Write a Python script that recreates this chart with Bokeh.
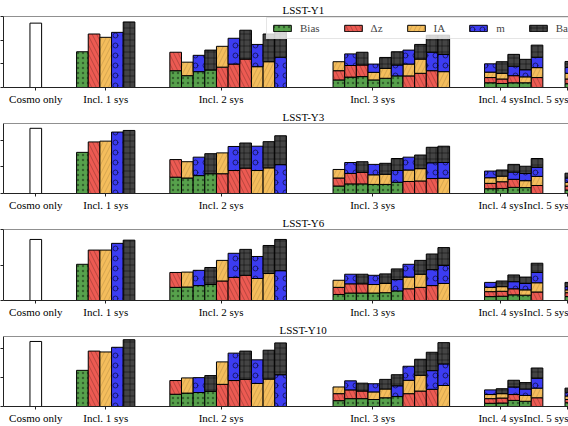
import itertools
from bokeh.plotting import figure
from bokeh.layouts import column
from bokeh.models import Span, FixedTicker, Legend, LegendItem, Range1d, CustomJSTickFormatter
from bokeh.embed import file_html
from bokeh.resources import INLINE

SYS = ["Bias", "Δz", "IA", "m", "Baryons"]
COLORS = ["#57a14c", "#ec5a52", "#f4bd5c", "#3c3cf2", "#444444"]
HATCH = [".", "\\", "/", "o", "+"]
HATCH_SCALE = [5, 9, 9, 10, 6]
HATCH_ALPHA = [0.4, 0.22, 0.12, 0.55, 0.45]

GROUP_STARTS = [4, 12, 26, 39, 45.9]
TICK_POS = [0, 6, 15.9, 28.9, 39.9, 45.6]
TICK_LABELS = ["Cosmo only", "Incl. 1 sys", "Incl. 2 sys", "Incl. 3 sys", "Incl. 4 sys", "Incl. 5 sys"]
TITLES = ["LSST-Y1", "LSST-Y3", "LSST-Y6", "LSST-Y10"]
Y_MAX = [3.0, 2.62, 2.0, 2.4]
Y_TICKS = [[0, 1, 2, 3], [0, 1, 2], [0, 1, 2], [0, 1, 2]]

# ---- LSST-Y1 (cumulative tops of each stacked segment, in combination order)
y1_cosmo = 2.72
y1_sys1 = [1.51, 2.26, 2.12, 2.33, 2.77]
y1_sys2 = [[0.71, 1.49], [0.50, 1.07], [0.67, 1.36], [0.74, 1.58], [0.86, 1.74],
           [0.99, 2.08], [1.20, 2.42], [0.88, 1.82], [1.09, 2.26], [1.28, 2.50]]
y1_sys3 = [[0.32, 0.71, 1.09], [0.44, 0.93, 1.42], [0.46, 0.95, 1.49], [0.32, 0.64, 0.99],
           [0.39, 0.81, 1.27], [0.49, 0.95, 1.51], [0.49, 0.99, 1.58], [0.60, 1.20, 1.82],
           [0.71, 1.49, 2.21], [0.67, 1.40, 2.21]]
y1_sys4 = [[0.20, 0.42, 0.65, 1.00], [0.17, 0.36, 0.60, 1.09], [0.20, 0.50, 0.90, 1.40],
           [0.20, 0.45, 0.75, 1.19], [0.42, 0.84, 1.28, 1.79]]
y1_sys5 = [[0.16, 0.36, 0.60, 0.85, 1.10]]

# ---- LSST-Y3
y3_cosmo = 2.44
y3_sys1 = [1.54, 1.93, 1.96, 2.30, 2.36]
y3_sys2 = [[0.61, 1.27], [0.58, 1.19], [0.67, 1.36], [0.74, 1.49], [0.74, 1.52],
           [0.86, 1.76], [0.95, 1.89], [0.86, 1.77], [0.96, 1.94], [1.08, 2.16]]
y3_sys3 = [[0.28, 0.58, 0.90], [0.36, 0.75, 1.16], [0.36, 0.79, 1.19], [0.34, 0.70, 1.09],
           [0.34, 0.72, 1.13], [0.42, 0.86, 1.31], [0.45, 0.88, 1.36], [0.47, 0.93, 1.44],
           [0.56, 1.15, 1.73], [0.57, 1.16, 1.77]]
y3_sys4 = [[0.18, 0.38, 0.59, 0.84], [0.19, 0.44, 0.65, 0.88], [0.23, 0.53, 0.80, 1.09],
           [0.22, 0.48, 0.75, 1.02], [0.30, 0.64, 0.98, 1.31]]
y3_sys5 = [[0.13, 0.28, 0.42, 0.58, 0.76]]

# ---- LSST-Y6
y6_cosmo = 1.72
y6_sys1 = [1.02, 1.42, 1.42, 1.61, 1.70]
y6_sys2 = [[0.37, 0.79], [0.38, 0.80], [0.42, 0.85], [0.45, 0.93], [0.55, 1.13],
           [0.65, 1.33], [0.71, 1.44], [0.62, 1.24], [0.76, 1.55], [0.84, 1.72]]
y6_sys3 = [[0.17, 0.37, 0.57], [0.21, 0.47, 0.74], [0.21, 0.47, 0.74], [0.21, 0.45, 0.71],
           [0.22, 0.48, 0.75], [0.27, 0.59, 0.89], [0.33, 0.66, 1.02], [0.37, 0.74, 1.13],
           [0.42, 0.87, 1.31], [0.48, 0.99, 1.49]]
y6_sys4 = [[0.11, 0.25, 0.37, 0.51], [0.12, 0.26, 0.39, 0.55], [0.16, 0.33, 0.53, 0.72],
           [0.15, 0.30, 0.48, 0.66], [0.24, 0.50, 0.79, 1.05]]
y6_sys5 = [[0.11, 0.22, 0.30, 0.39, 0.51]]

# ---- LSST-Y10
y10_cosmo = 2.23
y10_sys1 = [1.24, 1.90, 1.87, 2.03, 2.29]
y10_sys2 = [[0.42, 0.89], [0.46, 0.98], [0.48, 0.99], [0.52, 1.06], [0.76, 1.53],
            [0.89, 1.83], [0.93, 1.90], [0.79, 1.60], [0.94, 1.93], [1.09, 2.18]]
y10_sys3 = [[0.20, 0.44, 0.67], [0.27, 0.57, 0.88], [0.27, 0.53, 0.80], [0.24, 0.50, 0.78],
            [0.30, 0.60, 0.93], [0.34, 0.71, 1.09], [0.44, 0.90, 1.38], [0.53, 1.07, 1.62],
            [0.59, 1.23, 1.86], [0.72, 1.46, 2.19]]
y10_sys4 = [[0.11, 0.27, 0.41, 0.57], [0.12, 0.29, 0.44, 0.61], [0.21, 0.41, 0.67, 0.90],
            [0.18, 0.38, 0.60, 0.82], [0.30, 0.63, 0.97, 1.32]]
y10_sys5 = [[0.13, 0.24, 0.36, 0.49, 0.63]]

PANELS = [
    (y1_cosmo, [[v] for v in y1_sys1], y1_sys2, y1_sys3, y1_sys4, y1_sys5),
    (y3_cosmo, [[v] for v in y3_sys1], y3_sys2, y3_sys3, y3_sys4, y3_sys5),
    (y6_cosmo, [[v] for v in y6_sys1], y6_sys2, y6_sys3, y6_sys4, y6_sys5),
    (y10_cosmo, [[v] for v in y10_sys1], y10_sys2, y10_sys3, y10_sys4, y10_sys5),
]

FONT = "Liberation Serif"
FSIZE = "11px"
HEIGHTS = [107, 106, 107, 106]
BORDER_BOTTOM = [19, 18, 19, 18]
X_START, X_END = -2.77, 45.7
TITLE_OFFSETS = [279, 279, 279, 276]

figs = []
for pi, panel in enumerate(PANELS):
    cosmo = panel[0]
    groups = panel[1:]
    p = figure(width=568, height=HEIGHTS[pi], output_backend="svg", toolbar_location=None,
               x_range=Range1d(X_START, X_END), y_range=Range1d(0, Y_MAX[pi]),
               min_border_left=3, min_border_right=0, min_border_top=16,
               min_border_bottom=BORDER_BOTTOM[pi])
    p.outline_line_color = None
    p.xgrid.visible = False
    p.ygrid.visible = False
    p.background_fill_color = "white"
    p.border_fill_color = "white"

    p.title.text = TITLES[pi]
    p.title.text_font = FONT
    p.title.text_font_size = FSIZE
    p.title.text_font_style = "normal"
    p.title.align = "left"
    p.title.offset = TITLE_OFFSETS[pi]
    p.title.standoff = 2
    p.title.text_color = "black"

    # cosmo only bar
    p.vbar(x=[0], width=1, bottom=[0], top=[cosmo], fill_color="white", line_color="black", line_width=1)

    segs = {s: dict(x=[], bottom=[], top=[]) for s in range(5)}
    for n in range(1, 6):
        for j, combo in enumerate(itertools.combinations(range(5), n)):
            x = GROUP_STARTS[n - 1] + j
            tops = groups[n - 1][j]
            bottom = 0.0
            for k, s in enumerate(combo):
                segs[s]["x"].append(x)
                segs[s]["bottom"].append(bottom)
                segs[s]["top"].append(tops[k])
                bottom = tops[k]

    renderers = []
    for s in range(5):
        r = p.vbar(x=segs[s]["x"], width=1, bottom=segs[s]["bottom"], top=segs[s]["top"],
                   fill_color=COLORS[s], line_color="black", line_width=1,
                   hatch_pattern=HATCH[s], hatch_color="black", hatch_alpha=HATCH_ALPHA[s],
                   hatch_scale=HATCH_SCALE[s], hatch_weight=1)
        renderers.append(r)

    # top spine
    p.add_layout(Span(location=Y_MAX[pi], dimension="width", line_color="#222222", line_width=1))

    xa = p.xaxis[0]
    xa.ticker = FixedTicker(ticks=TICK_POS)
    xa.major_label_overrides = {t: l for t, l in zip(TICK_POS, TICK_LABELS)}
    xa.major_label_text_font = FONT
    xa.major_label_text_font_size = FSIZE
    xa.major_label_text_color = "black"
    xa.major_label_standoff = 2
    xa.major_tick_in = 0
    xa.major_tick_out = 3
    xa.minor_tick_line_color = None
    xa.axis_line_color = "#222222"
    xa.major_tick_line_color = "#222222"

    ya = p.yaxis[0]
    ya.ticker = FixedTicker(ticks=Y_TICKS[pi])
    ya.formatter = CustomJSTickFormatter(code="return ''")
    ya.major_label_standoff = 0
    ya.major_tick_in = 0
    ya.major_tick_out = 3
    ya.minor_tick_line_color = None
    ya.axis_line_color = "#222222"
    ya.major_tick_line_color = "#222222"

    if pi == 0:
        items = [LegendItem(label=SYS[s], renderers=[renderers[s]]) for s in range(5)]
        leg = Legend(items=items, orientation="horizontal", location=(263, 48),
                     glyph_width=22, glyph_height=8, label_height=10, label_width=0,
                     label_standoff=7, spacing=22, padding=4, margin=0,
                     label_text_font=FONT, label_text_font_size=FSIZE,
                     background_fill_alpha=0.8, border_line_color="#cccccc", border_line_width=1)
        p.add_layout(leg)

    figs.append(p)

layout = column(*figs, spacing=0)
open("out.html", "w").write(file_html(layout, INLINE))
